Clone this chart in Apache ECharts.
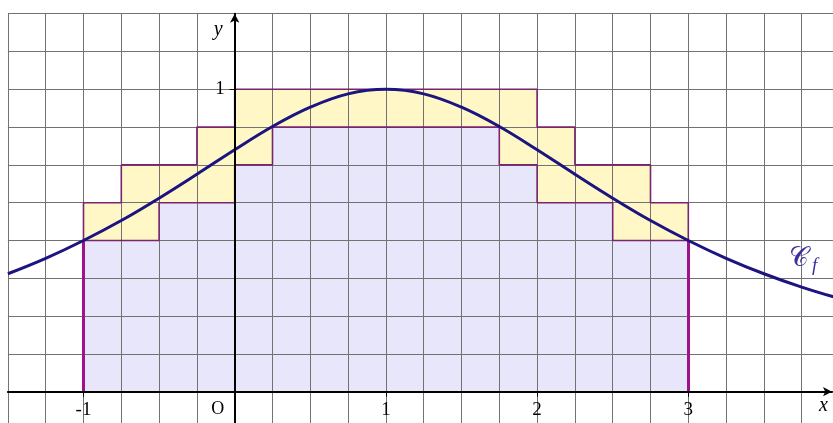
<!DOCTYPE html>
<html>
<head>
<meta charset="utf-8">
<style>
  html, body { margin: 0; padding: 0; background: #ffffff; }
  #chart { width: 833px; height: 423px; }
</style>
<script src="https://cdn.jsdelivr.net/npm/echarts@6/dist/echarts.min.js"></script>
</head>
<body>
<div id="chart"></div>
<script>
// Subdivision of [-1, 3] into 16 intervals of width 1/4
const stepEdges = [-1, -0.75, -0.5, -0.25, 0, 0.25, 0.5, 0.75, 1, 1.25, 1.5, 1.75, 2, 2.25, 2.5, 2.75, 3];
// Upper and lower step heights on each interval (grid units of 1/8)
const upperValues = [0.625, 0.75, 0.75, 0.875, 1, 1, 1, 1, 1, 1, 1, 1, 0.875, 0.75, 0.75, 0.625];
const lowerValues = [0.5, 0.5, 0.625, 0.625, 0.75, 0.875, 0.875, 0.875, 0.875, 0.875, 0.875, 0.75, 0.625, 0.625, 0.5, 0.5];
// Points of the curve C_f
const curveX = [-1.5, -1.25, -1, -0.75, -0.5, -0.25, 0, 0.25, 0.5, 0.75, 1, 1.25, 1.5, 1.75, 2, 2.25, 2.5, 2.75, 3, 3.25, 3.5, 3.75, 4];
const curveY = [0.39, 0.441, 0.5, 0.566, 0.64, 0.719, 0.8, 0.877, 0.941, 0.985, 1, 0.985, 0.941, 0.877, 0.8, 0.719, 0.64, 0.566, 0.5, 0.441, 0.39, 0.346, 0.308];
// Axis labels
const xTickLabels = [-1, 1, 2, 3];
const yTickLabels = [1];

const serif = "'Liberation Serif', 'DejaVu Serif', serif";

function stepData(values) {
  const pts = [[stepEdges[0], 0]];
  values.forEach((v, i) => pts.push([stepEdges[i], v]));
  pts.push([stepEdges[stepEdges.length - 1], values[values.length - 1]]);
  pts.push([stepEdges[stepEdges.length - 1], 0]);
  return pts;
}
const curveData = curveX.map((x, i) => [x, curveY[i]]);

const fillYellow = '#fff8c6';
const fillLavender = '#e8e6fa';
const stepBorder = '#7a2470';
const gridGray = '#727272';

// Plot frame (pixels) and visible value window
const W = 833, H = 423;
const frame = { left: 7.9, top: 13.7, bottom: -6.5 };
const xMin = -1.5, xMax = 4, yMin = -0.125, yMax = 1.25;
const plotW = W - frame.left + 6.5;
const plotH = H - frame.top - frame.bottom;
// The arrowed axes sit on x = 0 and y = 0: shift them from the frame edges
const xAxisShift = -plotH * (0 - yMin) / (yMax - yMin);
const yAxisShift = -plotW * (0 - xMin) / (xMax - xMin);
// The arrowed x axis stops at the right window edge
const arrowRight = 1;
const arrowXMax = xMin + (W - arrowRight - frame.left) * (xMax - xMin) / plotW;

const chart = echarts.init(document.getElementById('chart'), null, { renderer: 'canvas' });

const hidden = { show: false };
const option = {
  animation: false,
  backgroundColor: '#ffffff',
  grid: [
    { left: frame.left, right: -6.5, top: frame.top, bottom: frame.bottom, containLabel: false, outerBoundsMode: 'none' },
    { left: frame.left, right: arrowRight, top: frame.top, bottom: frame.bottom, containLabel: false, outerBoundsMode: 'none' }
  ],
  xAxis: [
    {
      type: 'value', gridIndex: 0, min: xMin, max: xMax, interval: 0.25, z: 2,
      axisLine: hidden, axisTick: hidden, axisLabel: hidden,
      splitLine: { show: true, lineStyle: { color: gridGray, width: 1 } }
    },
    {
      type: 'value', gridIndex: 1, min: xMin, max: arrowXMax, z: 8,
      position: 'bottom', offset: xAxisShift,
      name: 'x', nameLocation: 'end', nameGap: 0,
      nameTextStyle: { fontFamily: serif, fontStyle: 'italic', fontSize: 20, color: '#000', align: 'right', verticalAlign: 'top', padding: [4, 4, 0, 0] },
      axisLine: { show: true, onZero: false, symbol: ['none', 'arrow'], symbolSize: [7, 9], lineStyle: { color: '#000', width: 2 } },
      axisTick: { show: true, customValues: xTickLabels, length: 5, lineStyle: { color: '#000', width: 1 } },
      axisLabel: {
        show: true, customValues: [-1, 0, 1, 2, 3], margin: 9,
        fontFamily: serif, fontSize: 19, color: '#000',
        formatter: v => v === 0 ? '{o|O}' : String(v),
        rich: { o: { fontFamily: serif, fontSize: 18, color: '#000', padding: [0, 34, 4, 0] } }
      },
      splitLine: hidden
    }
  ],
  yAxis: [
    {
      type: 'value', gridIndex: 0, min: yMin, max: yMax, interval: 0.125, z: 2,
      axisLine: hidden, axisTick: hidden, axisLabel: hidden,
      splitLine: { show: true, lineStyle: { color: gridGray, width: 1 } }
    },
    {
      type: 'value', gridIndex: 1, min: yMin, max: yMax, z: 8,
      position: 'left', offset: yAxisShift,
      name: 'y', nameLocation: 'end', nameGap: -16,
      nameTextStyle: { fontFamily: serif, fontStyle: 'italic', fontSize: 20, color: '#000', align: 'right', verticalAlign: 'middle', padding: [0, 12, 0, 0] },
      axisLine: { show: true, onZero: false, symbol: ['none', 'arrow'], symbolSize: [7, 9], lineStyle: { color: '#000', width: 2 } },
      axisTick: { show: true, customValues: yTickLabels, length: 5, lineStyle: { color: '#000', width: 1 } },
      axisLabel: { show: true, customValues: yTickLabels, margin: 10, fontFamily: serif, fontSize: 19, color: '#000' },
      splitLine: hidden
    }
  ],
  series: [
    {
      name: 'upper area', type: 'line', xAxisIndex: 0, yAxisIndex: 0, z: 1,
      step: 'end', symbol: 'none', data: stepData(upperValues),
      lineStyle: { width: 0 }, areaStyle: { color: fillYellow, opacity: 1 }
    },
    {
      name: 'lower area', type: 'line', xAxisIndex: 0, yAxisIndex: 0, z: 1,
      step: 'end', symbol: 'none', data: stepData(lowerValues),
      lineStyle: { width: 0 }, areaStyle: { color: fillLavender, opacity: 1 }
    },
    {
      name: 'upper outline', type: 'line', xAxisIndex: 0, yAxisIndex: 0, z: 4,
      step: 'end', symbol: 'none', data: stepData(upperValues),
      lineStyle: { color: stepBorder, width: 1.6 }
    },
    {
      name: 'lower outline', type: 'line', xAxisIndex: 0, yAxisIndex: 0, z: 4,
      step: 'end', symbol: 'none', data: stepData(lowerValues),
      lineStyle: { color: stepBorder, width: 1.6 },
      markLine: {
        silent: true, symbol: ['none', 'none'], z: 5,
        label: { show: false },
        lineStyle: { color: '#a0128c', width: 3, type: 'solid' },
        data: [
          [{ coord: [stepEdges[0], 0] }, { coord: [stepEdges[0], lowerValues[0]] }],
          [{ coord: [stepEdges[stepEdges.length - 1], 0] }, { coord: [stepEdges[stepEdges.length - 1], lowerValues[lowerValues.length - 1]] }]
        ]
      }
    },
    {
      name: 'Cf', type: 'line', xAxisIndex: 0, yAxisIndex: 0, z: 6,
      smooth: 0.4, symbol: 'none', data: curveData,
      lineStyle: { color: '#1c1480', width: 3 },
      markPoint: {
        symbol: 'circle', symbolSize: 0, silent: true,
        data: [{ coord: [3.76, 0.44] }],
        label: {
          show: true, position: 'inside',
          formatter: '{c|𝒞}{s|f}',
          rich: {
            c: { fontFamily: "'DejaVu Sans', 'DejaVu Serif', serif", fontSize: 27, color: '#3a2f9e' },
            s: { fontFamily: serif, fontStyle: 'italic', fontSize: 19, color: '#3a2f9e', padding: [14, 0, 0, 3] }
          }
        }
      }
    }
  ]
};
chart.setOption(option);
</script>
</body>
</html>
